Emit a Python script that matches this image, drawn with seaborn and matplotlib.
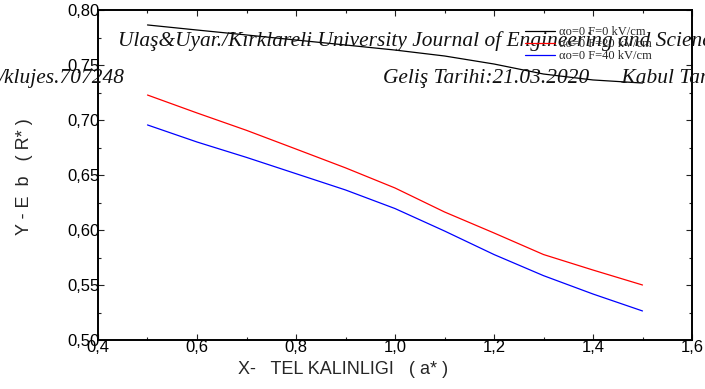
import matplotlib
matplotlib.use("Agg")
import matplotlib.pyplot as plt
from matplotlib.ticker import MultipleLocator, FuncFormatter
from matplotlib.lines import Line2D
import seaborn as sns
import pandas as pd

# Wire thickness a* and reflection values R* for each field setting
thickness = [0.5, 0.6, 0.7, 0.8, 0.9, 1.0, 1.1, 1.2, 1.3, 1.4, 1.5]
r_f0 = [0.7864, 0.7818, 0.7773, 0.7727, 0.7682, 0.7636, 0.7582, 0.7509, 0.7418, 0.7364, 0.7336]
r_f20 = [0.7227, 0.7064, 0.6906, 0.6736, 0.6565, 0.6382, 0.6164, 0.5973, 0.5777, 0.5636, 0.5500]
r_f40 = [0.6955, 0.6800, 0.6660, 0.6512, 0.6364, 0.6195, 0.5991, 0.5777, 0.5585, 0.5418, 0.5264]
series_labels = ["αo=0 F=0 kV/cm", "αo=0 F=20 kV/cm", "αo=0 F=40 kV/cm"]
series_colors = ["#000000", "#ff0000", "#0000ff"]

x_label = "X-   TEL KALINLIGI   ( a* )"
y_label = "Y - E  b   ( R* )"
header_line1 = "Ulaş&Uyar./Kırklareli University Journal of Engineering and Science"
header_doi = "/klujes.707248"
header_line2 = "Geliş Tarihi:21.03.2020      Kabul Tarihi:"

frames = []
for lab, vals in zip(series_labels, [r_f0, r_f20, r_f40]):
    frames.append(pd.DataFrame({"a": thickness, "R": vals, "series": lab}))
df = pd.concat(frames, ignore_index=True)

sns.set_style("ticks")
plt.rcParams["font.family"] = ["Liberation Sans", "DejaVu Sans"]

fig = plt.figure(figsize=(7.05, 3.89), dpi=100)
W, H = 705, 389
ax = fig.add_axes([98 / W, 1 - 340 / H, (692 - 98) / W, (340 - 10) / H])

sns.lineplot(data=df, x="a", y="R", hue="series", palette=series_colors,
             hue_order=series_labels, ax=ax, linewidth=0.9, legend=False)

ax.set_xlim(0.4, 1.6)
ax.set_ylim(0.50, 0.80)
ax.xaxis.set_major_locator(MultipleLocator(0.2))
ax.xaxis.set_minor_locator(MultipleLocator(0.1))
ax.yaxis.set_major_locator(MultipleLocator(0.05))
ax.yaxis.set_minor_locator(MultipleLocator(0.025))
ax.xaxis.set_major_formatter(FuncFormatter(lambda v, p: f"{v:.1f}".replace(".", ",")))
ax.yaxis.set_major_formatter(FuncFormatter(lambda v, p: f"{v:.2f}".replace(".", ",")))
ax.tick_params(which="both", direction="in", top=True, right=True, width=0.8,
               colors="#222222", labelcolor="black", labelsize=12)
ax.tick_params(which="major", length=4)
ax.tick_params(which="minor", length=2.5)
ax.tick_params(axis="y", pad=-1)
ax.tick_params(axis="x", pad=0)
for s in ax.spines.values():
    s.set_visible(True)
    s.set_linewidth(1.4)
    s.set_color("black")

ax.set_xlabel(x_label, fontsize=13)
ax.set_ylabel(y_label, fontsize=13)
ax.xaxis.set_label_coords(0.412, -0.064)
ax.yaxis.set_label_coords(-0.11, 0.495)

# legend
handles = [Line2D([], [], color=c, linewidth=0.9) for c in series_colors]
fig.legend(handles, series_labels, loc="upper left", bbox_to_anchor=(525 / W, 1 - 26 / H),
           frameon=False, prop={"family": "Liberation Serif", "size": 9},
           handlelength=2.4, handletextpad=0.3, labelspacing=0.0,
           borderpad=0, borderaxespad=0)

# page header overlaid on the figure
hdr = dict(family="Liberation Serif", style="italic", fontsize=15.4, color="#111111", va="baseline")
fig.text(118 / W, 1 - 46 / H, header_line1, ha="left", **hdr)
fig.text(125 / W, 1 - 83 / H, header_doi, ha="right", **hdr)
fig.text(383 / W, 1 - 83 / H, header_line2, ha="left", **hdr)

fig.savefig("out.png", dpi=100, facecolor="white")
